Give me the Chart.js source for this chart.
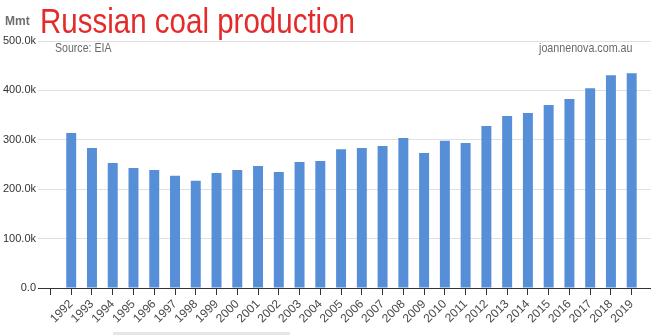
<!DOCTYPE html>
<html>
<head>
<meta charset="utf-8">
<script src="https://cdn.jsdelivr.net/npm/chart.js@4/dist/chart.umd.min.js"></script>
<style>
  html, body { margin: 0; padding: 0; background: #fff; }
  #wrap { width: 651px; height: 335px; }
</style>
</head>
<body>
<div id="wrap"><canvas id="c" width="651" height="335"></canvas></div>
<script>
// Russian coal production by year (source: EIA)
const years = [1992, 1993, 1994, 1995, 1996, 1997, 1998, 1999, 2000, 2001,
               2002, 2003, 2004, 2005, 2006, 2007, 2008, 2009, 2010, 2011,
               2012, 2013, 2014, 2015, 2016, 2017, 2018, 2019];
const production = [313700, 283400, 253100, 243000, 239000, 227000, 217000, 233000, 239000, 247000,
                    235000, 255000, 257000, 281000, 283500, 287500, 303600, 273300, 298200, 293500,
                    327900, 348100, 354100, 370300, 382400, 404600, 430900, 434900];
const yTicks = [0, 100000, 200000, 300000, 400000, 500000];
const xTickYears = [1991].concat(years); // leading empty slot on the axis

const titleText = 'Russian coal production';
const sourceText = 'Source: EIA';
const siteText = 'joannenova.com.au';
const unitText = 'Mmt';

const FONT = '"Liberation Sans", Arial, sans-serif';

function fmtK(v) {
  return v === 0 ? '0.0' : (v / 1000).toFixed(1) + 'k';
}

// Header texts and unit label
const headerPlugin = {
  id: 'header',
  afterDraw(chart) {
    const ctx = chart.ctx;
    ctx.save();
    ctx.textBaseline = 'alphabetic';
    ctx.textAlign = 'left';

    // unit
    ctx.fillStyle = '#6e6e6e';
    ctx.font = 'bold 12px ' + FONT;
    ctx.fillText(unitText, 5, 25);

    // condensed title
    ctx.fillStyle = '#e42a2a';
    ctx.font = '35px ' + FONT;
    let w = ctx.measureText(titleText).width;
    ctx.save();
    ctx.translate(40, 33);
    ctx.scale(315 / w, 1);
    ctx.fillText(titleText, 0, 0);
    ctx.restore();

    // source + site
    ctx.fillStyle = '#6a6a6a';
    ctx.font = '13px ' + FONT;
    w = ctx.measureText(sourceText).width;
    ctx.save();
    ctx.translate(55, 52);
    ctx.scale(56.5 / w, 1);
    ctx.fillText(sourceText, 0, 0);
    ctx.restore();

    w = ctx.measureText(siteText).width;
    ctx.save();
    ctx.translate(539, 52);
    ctx.scale(93.5 / w, 1);
    ctx.fillText(siteText, 0, 0);
    ctx.restore();

    // faint rule at the foot of the page
    ctx.fillStyle = '#e6e6e6';
    ctx.fillRect(113, 332, 177, 3);
    ctx.restore();
  }
};

new Chart(document.getElementById('c'), {
  type: 'bar',
  data: {
    datasets: [{
      data: years.map((y, i) => ({ x: y, y: production[i] })),
      backgroundColor: '#568fd7',
      borderWidth: 0,
      barPercentage: 0.48,
      categoryPercentage: 1.0
    }]
  },
  options: {
    responsive: false,
    animation: false,
    devicePixelRatio: 1,
    layout: { padding: { top: 41, left: 0, right: 0, bottom: 0 } },
    plugins: {
      legend: { display: false },
      tooltip: { enabled: false },
      title: { display: false }
    },
    scales: {
      x: {
        type: 'linear',
        offset: false,
        min: 1990.4,
        max: 2019.93,
        afterBuildTicks(scale) {
          scale.ticks = xTickYears.map(v => ({ value: v }));
        },
        afterFit(scale) {
          scale.height = 47;
          scale.paddingLeft = 0;
          scale.paddingRight = 0;
        },
        ticks: {
          autoSkip: false,
          maxRotation: 45,
          minRotation: 45,
          padding: 2,
          color: '#4a4a4a',
          font: { family: FONT, size: 12 },
          callback: v => (v === 1991 ? '' : String(v))
        },
        grid: {
          display: true,
          offset: false,
          drawOnChartArea: false,
          drawTicks: true,
          tickLength: 7,
          color: '#333'
        },
        border: { display: true, color: '#333', width: 1 }
      },
      y: {
        min: 0,
        max: 500000,
        afterBuildTicks(scale) {
          scale.ticks = yTicks.map(v => ({ value: v }));
        },
        afterFit(scale) {
          scale.width = 38;
          scale.paddingTop = 0;
          scale.paddingBottom = 0;
        },
        ticks: {
          padding: 2,
          color: '#333',
          font: { family: FONT, size: 11 },
          callback: v => fmtK(v)
        },
        grid: {
          drawTicks: false,
          color: ctx => (ctx.tick && ctx.tick.value === 0 ? 'rgba(0,0,0,0)' : '#e0e0e0')
        },
        border: { display: false }
      }
    }
  },
  plugins: [headerPlugin]
});
</script>
</body>
</html>
